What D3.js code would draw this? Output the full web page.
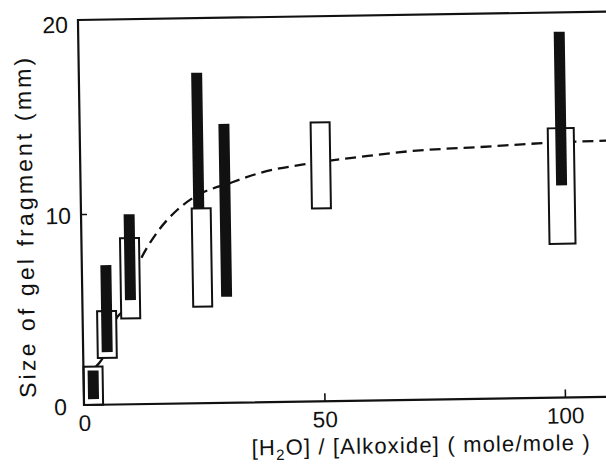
<!DOCTYPE html>
<html><head><meta charset="utf-8">
<script src="https://cdn.jsdelivr.net/npm/d3@7/dist/d3.min.js"></script>
<style>
body{margin:0;background:#fff}
svg{display:block}
text{font-family:"Liberation Sans",Arial,sans-serif;fill:#111}
</style>
</head><body><svg id="c" width="606" height="471"></svg>
<script>
// ---- data ----
const xTicks = [0, 50, 100];
const yTicks = [0, 10, 20];
const xLabel = ["[H", "2", "O] / [Alkoxide] ( mole/mole )"];
const yLabel = "Size  of  gel  fragment  (mm)";

// open boxes (range)
const openX    = [2, 5, 10, 25, 50, 100];
const openLow  = [0, 2.45, 4.5, 5.05, 10.1, 8.05];
const openHigh = [2.0, 4.9, 8.7, 10.2, 14.6, 14.1];

// filled bars (range)
const barX    = [2, 5, 10, 24.5, 30, 100];
const barLow  = [0.3, 2.75, 5.45, 10.2, 5.55, 11.1];
const barHigh = [1.8, 7.3, 9.95, 17.3, 14.6, 19.15];

// dashed trend curve
const curveX = [2.6, 3.3, 3.9, 7.2, 8, 11.9, 15.7, 20, 23.3, 31.7, 37.3, 48.4, 58.2, 69.2, 83.2, 97.1, 106.7, 112];
const curveY = [2.0, 2.19, 2.39, 4.58, 4.79, 7.39, 8.95, 10.13, 10.75, 11.55, 12.0, 12.48, 12.76, 13.03, 13.18, 13.34, 13.40, 13.42];

// ---- layout / style ----
const W = 606, H = 471;
const ink = "#111";
const boxW = 19, wideBoxW = 26, barW = 11;
const frameTop = 20.16, frameRight = 112;
const font = '"Liberation Sans",Arial,sans-serif';

const svg = d3.select("#c");
svg.append("rect").attr("width", W).attr("height", H).attr("fill", "#fff");

const g = svg.append("g").attr("transform", "translate(84,405) rotate(-0.9)");

const x = d3.scaleLinear().domain([0, 100]).range([0, 481]);
const y = d3.scaleLinear().domain([0, 20]).range([0, -382]);

// dashed curve (behind boxes)
g.append("path")
  .datum(d3.range(curveX.length))
  .attr("d", d3.line().x(i => x(curveX[i])).y(i => y(curveY[i])).curve(d3.curveMonotoneX))
  .attr("fill", "none").attr("stroke", ink).attr("stroke-width", 2.3)
  .attr("stroke-dasharray", "11,6");

// open boxes
g.selectAll("rect.open").data(d3.range(openX.length)).join("rect")
  .attr("class", "open")
  .attr("x", i => x(openX[i]) - (openX[i] >= 90 ? wideBoxW : boxW) / 2)
  .attr("width", i => openX[i] >= 90 ? wideBoxW : boxW)
  .attr("y", i => y(openHigh[i]))
  .attr("height", i => y(openLow[i]) - y(openHigh[i]))
  .attr("fill", "#fff").attr("stroke", ink).attr("stroke-width", 2);

// filled bars
g.selectAll("rect.bar").data(d3.range(barX.length)).join("rect")
  .attr("class", "bar")
  .attr("x", i => x(barX[i]) - barW / 2)
  .attr("width", barW)
  .attr("y", i => y(barHigh[i]))
  .attr("height", i => y(barLow[i]) - y(barHigh[i]))
  .attr("fill", ink);

// frame lines (left, bottom, top)
const frame = g.append("g").attr("stroke", ink).attr("stroke-width", 2.2).attr("fill", "none");
frame.append("path").attr("d", d3.line()([[x(frameRight), y(frameTop)], [x(0), y(frameTop)], [x(0), y(0)], [x(frameRight), y(0)]]));

// x axis
const xAxis = d3.axisBottom(x).tickValues(xTicks).tickSizeInner(-8).tickSizeOuter(0).tickPadding(10);
const xa = g.append("g").call(xAxis);
xa.select(".domain").remove();
xa.selectAll(".tick line").attr("stroke", ink).attr("stroke-width", 1.6).attr("display", d => d === 0 ? "none" : null);
xa.selectAll(".tick text").attr("font-size", 22.5).attr("font-family", font).attr("fill", ink);

// y axis
const yAxis = d3.axisLeft(y).tickValues(yTicks).tickSizeInner(-6).tickSizeOuter(0).tickPadding(11);
const ya = g.append("g").call(yAxis);
ya.select(".domain").remove();
ya.selectAll(".tick line").attr("stroke", ink).attr("stroke-width", 1.6).attr("display", d => d === 10 ? null : "none");
ya.selectAll(".tick text").attr("font-size", 23).attr("font-family", font).attr("fill", ink)
  .attr("x", d => d === 0 ? -17 : -10).attr("dy", "0.4em");

// axis titles
const xt = g.append("text").attr("x", 336).attr("y", 53).attr("text-anchor", "middle")
  .attr("font-size", 22).attr("textLength", 338).attr("lengthAdjust", "spacing");
xt.append("tspan").text(xLabel[0]);
xt.append("tspan").attr("font-size", 15).attr("dy", 5).text(xLabel[1]);
xt.append("tspan").attr("dy", -5).text(xLabel[2]);

g.append("text").attr("transform", "translate(-48,-178) rotate(-90)").attr("text-anchor", "middle")
  .attr("font-size", 23).attr("textLength", 340).attr("lengthAdjust", "spacing").text(yLabel);
</script>
</body></html>
